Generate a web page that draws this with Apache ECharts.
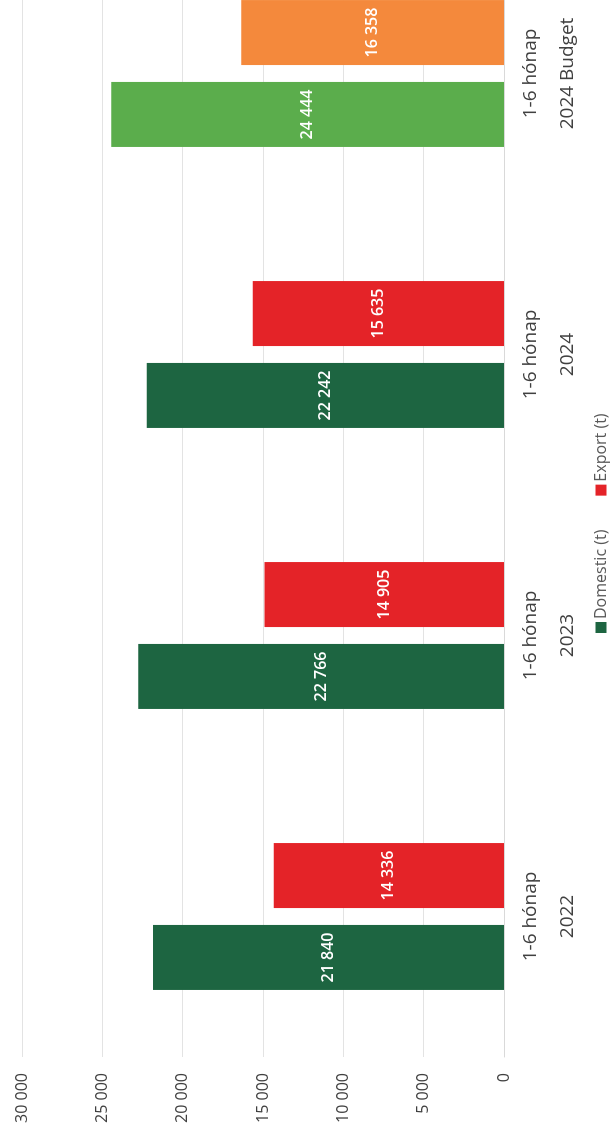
<!DOCTYPE html>
<html>
<head>
<meta charset="utf-8">
<script src="https://cdn.jsdelivr.net/npm/echarts@6/dist/echarts.min.js"></script>
<style>
html, body { margin: 0; padding: 0; background: #fff; overflow: hidden; }
#wrap { position: absolute; left: 0; top: 0; width: 610px; height: 1143px; overflow: hidden; }
/* the reference is a column chart turned on its side (and cut off at the top),
   so draw it upright, a bit wider than the page, and rotate it */
#chart { position: absolute; left: 0; top: 0; width: 1210px; height: 610px;
  transform-origin: 0 0; transform: translate(0, 1143px) rotate(-90deg); }
</style>
</head>
<body>
<div id="wrap"><div id="chart"></div></div>
<script>
var periods = ['1-6 hónap', '1-6 hónap', '1-6 hónap', '1-6 hónap'];
var years = ['2022', '2023', '2024', '2024 Budget'];
var domestic = [21840, 22766, 22242, 24444];
var exportT = [14336, 14905, 15635, 16358];
var valueMax = 30000;
var valueStep = 5000;

var FONT = '"Open Sans", "Liberation Sans", sans-serif';

function fmt(v) {
  return String(v).replace(/\B(?=(\d{3})+(?!\d))/g, ' ');
}

// last category is the budget, drawn in lighter colours
function withBudget(arr, color) {
  return arr.map(function (v, i) {
    return i === arr.length - 1 ? { value: v, itemStyle: { color: color } } : v;
  });
}

var chart = echarts.init(document.getElementById('chart'), null, { renderer: 'canvas' });

var dataLabel = {
  show: true,
  position: 'inside',
  color: '#fff',
  fontFamily: FONT,
  fontSize: 16,
  fontWeight: 600,
  formatter: function (p) { return fmt(p.value); }
};

chart.setOption({
  backgroundColor: '#fff',
  animation: false,
  grid: { left: 86, right: 0, top: 22, bottom: 106 },
  legend: {
    left: 505,
    top: 588,
    itemWidth: 11,
    itemHeight: 11,
    itemGap: 34,
    icon: 'rect',
    textStyle: { fontFamily: FONT, fontSize: 16, color: '#595959', padding: [0, 0, 0, -2] },
    data: ['Domestic (t)', 'Export (t)']
  },
  xAxis: {
    type: 'category',
    data: years,
    axisLine: { lineStyle: { color: '#d9d9d9' } },
    axisTick: { show: false },
    axisLabel: {
      margin: 8,
      fontFamily: FONT,
      fontSize: 19,
      lineHeight: 37,
      color: '#404040',
      formatter: function (v, i) { return periods[i] + '\n' + v; }
    }
  },
  yAxis: {
    type: 'value',
    min: 0,
    max: valueMax,
    interval: valueStep,
    axisLine: { show: false },
    axisTick: { show: false },
    splitLine: { lineStyle: { color: '#e3e3e3' } },
    axisLabel: {
      margin: 16,
      fontFamily: FONT,
      fontSize: 16,
      color: '#404040',
      formatter: function (v) { return fmt(v); }
    }
  },
  series: [
    {
      name: 'Domestic (t)',
      type: 'bar',
      barWidth: 65,
      barGap: '26%',
      itemStyle: { color: '#1d6541' },
      label: dataLabel,
      data: withBudget(domestic, '#5bad4c')
    },
    {
      name: 'Export (t)',
      type: 'bar',
      barWidth: 65,
      itemStyle: { color: '#e42328' },
      label: dataLabel,
      data: withBudget(exportT, '#f4893c')
    }
  ]
});
</script>
</body>
</html>
